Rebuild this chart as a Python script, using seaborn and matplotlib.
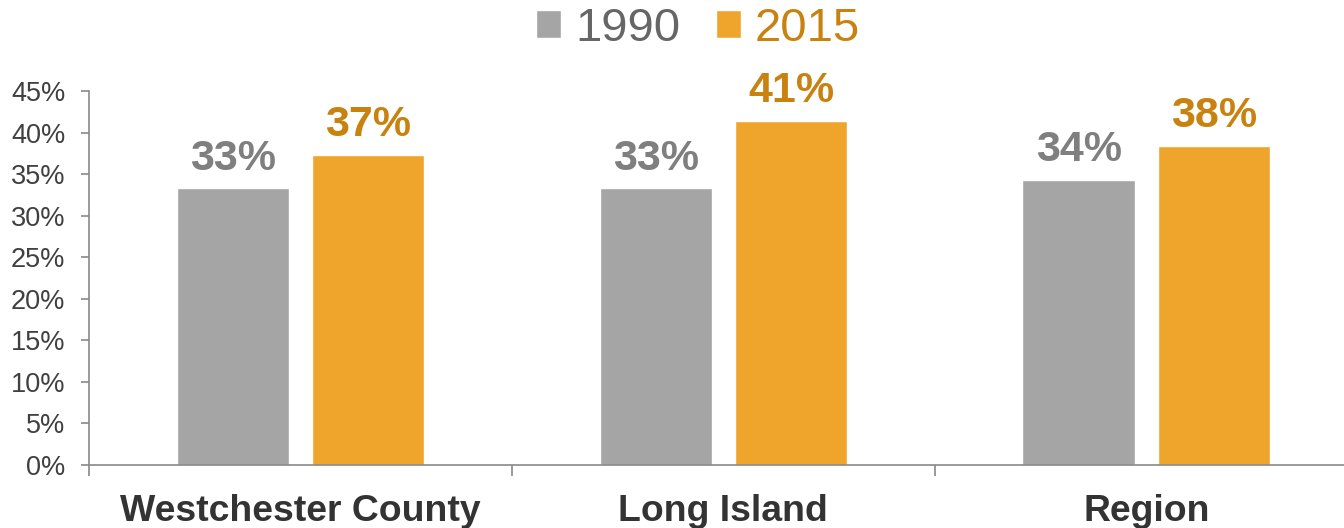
import numpy as np
import pandas as pd
import matplotlib
matplotlib.use("Agg")
import matplotlib.pyplot as plt
import seaborn as sns

regions = ["Westchester County", "Long Island", "Region"]
years = ["1990", "2015"]
share_1990 = [0.333, 0.333, 0.343]
share_2015 = [0.373, 0.414, 0.384]

bar_colors = {"1990": "#A5A5A5", "2015": "#EFA52B"}
label_colors = {"1990": "#7F7F7F", "2015": "#C8820F"}
legend_colors = {"1990": "#666666", "2015": "#C8820F"}

df = pd.DataFrame({
    "region": regions * 2,
    "year": [years[0]] * 3 + [years[1]] * 3,
    "share": share_1990 + share_2015,
})

sns.set_theme(style="white")
plt.rcParams["font.family"] = ["Liberation Sans", "DejaVu Sans"]

fig = plt.figure(figsize=(13.44, 5.28), dpi=100)
# the plot area runs a little past the right edge of the figure
ax = fig.add_axes([0.0662, 0.1193, 0.944, 0.7084])

sns.barplot(data=df, x="region", y="share", hue="year", order=regions,
            hue_order=years, palette=bar_colors, width=0.64, gap=0.17,
            ax=ax, saturation=1)

for cont, yr in zip(ax.containers, years):
    ax.bar_label(cont, labels=[f"{v:.0%}" for v in cont.datavalues],
                 padding=7, fontsize=31, fontweight="bold",
                 color=label_colors[yr])

ax.set_ylim(0, 0.45)
ax.set_xlim(-0.5, 2.5)
ax.set_yticks(np.arange(0, 0.451, 0.05))
ax.set_yticklabels([f"{int(round(t * 100))}%" for t in np.arange(0, 0.451, 0.05)])
ax.set_xlabel("")
ax.set_ylabel("")

axis_gray = "#898989"
for side in ["top", "right"]:
    ax.spines[side].set_visible(False)
for side in ["left", "bottom"]:
    ax.spines[side].set_color(axis_gray)
    ax.spines[side].set_linewidth(1.2)

ax.tick_params(axis="y", which="major", length=6, width=1.2, color=axis_gray,
               labelsize=19.5, labelcolor="#404040", pad=11, left=True)
ax.set_xticks([-0.5, 0.5, 1.5, 2.5], minor=True)
ax.tick_params(axis="x", which="minor", length=8, width=1.2,
               color=axis_gray, bottom=True, direction="out")
ax.tick_params(axis="x", which="major", length=0, labelsize=26.9, pad=21,
               labelcolor="#333333")
for lbl in ax.get_xticklabels():
    lbl.set_fontweight("bold")

handles, labels = ax.get_legend_handles_labels()
ax.legend_.remove()
leg = fig.legend(handles, labels, loc="center", bbox_to_anchor=(0.5195, 0.946),
                 ncol=2, frameon=False, fontsize=34, handlelength=0.53,
                 handleheight=0.53, handletextpad=0.3, columnspacing=0.75,
                 borderpad=0)
for txt, yr in zip(leg.get_texts(), years):
    txt.set_color(legend_colors[yr])

fig.savefig("out.png", dpi=100)
